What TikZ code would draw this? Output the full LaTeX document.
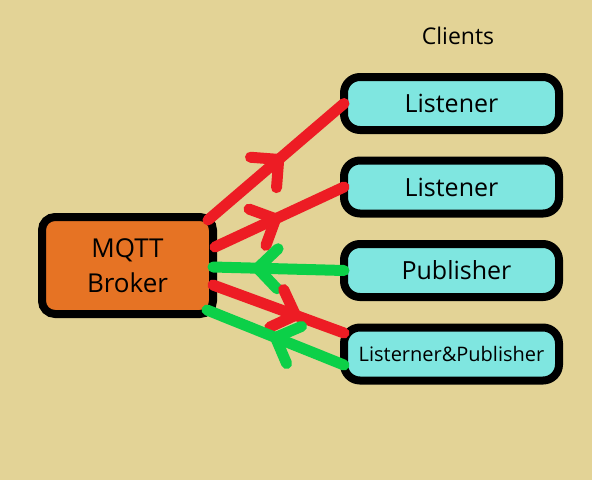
\documentclass[tikz,border=0pt]{standalone}
\usepackage{fontspec}
\setmainfont{Open Sans}
\usetikzlibrary{decorations.markings}
\definecolor{bgc}{RGB}{227,211,150}
\definecolor{cyanc}{RGB}{127,230,224}
\definecolor{orangec}{RGB}{230,115,36}
\definecolor{redc}{RGB}{237,28,36}
\definecolor{greenc}{RGB}{12,208,72}
\begin{document}
\begin{tikzpicture}[x=1pt,y=-1pt,
  box/.style={draw=black, line width=8pt, outer sep=0pt, inner sep=0pt},
  client/.style={box, fill=cyanc, rounded corners=16pt, minimum width=215pt, minimum height=53pt,
     font=\fontsize{25}{30}\selectfont, text height=18pt, text depth=0pt},
  conn/.style={line width=11pt, line cap=round, line join=round},
  chev/.style args={#1/#2}{postaction={decorate}, decoration={markings,
     mark=at position #1 with {\draw[conn,#2] (-20pt,20pt) -- (0pt,0pt) -- (-20pt,-20pt);}}}
]
\fill[bgc] (0,0) rectangle (592,480);
\useasboundingbox (0,0) rectangle (592,480);

\node[font=\fontsize{23}{28}\selectfont, text height=16pt, text depth=0pt] (clients) at (458,36) {Clients};

\node[client] (l1) at (451.5,103.5) {Listener};
\node[client] (l2) at (451.5,187) {Listener};
\node[client] (pub) at (451.5,270.5) {\hspace*{10pt}Publisher};
\node[client, font=\fontsize{20}{24}\selectfont, text height=15pt] (lp) at (451.5,354) {Listerner\&Publisher};

\node[box, fill=orangec, rounded corners=13pt, minimum width=171pt, minimum height=97pt,
      align=center, font=\fontsize{26}{35}\selectfont, text depth=0pt] (b) at (127.5,265.5) {MQTT\\Broker};

\draw[conn, redc, chev=0.52/redc] ([xshift=-5pt,yshift=45.5pt]b.east) -- (l1.west);
\draw[conn, redc, chev=0.47/redc] ([xshift=2pt,yshift=18.5pt]b.east) -- (l2.west);
\draw[conn, greenc, chev=0.66/greenc] (pub.west) -- ([yshift=-1.5pt]b.east);
\draw[conn, redc, chev=0.63/redc] ([yshift=-19.5pt]b.east) -- ([yshift=21pt]lp.west);
\draw[conn, greenc, chev=0.5/greenc] ([yshift=-11pt]lp.west) -- ([xshift=-6pt,yshift=-44.5pt]b.east);
\end{tikzpicture}
\end{document}
